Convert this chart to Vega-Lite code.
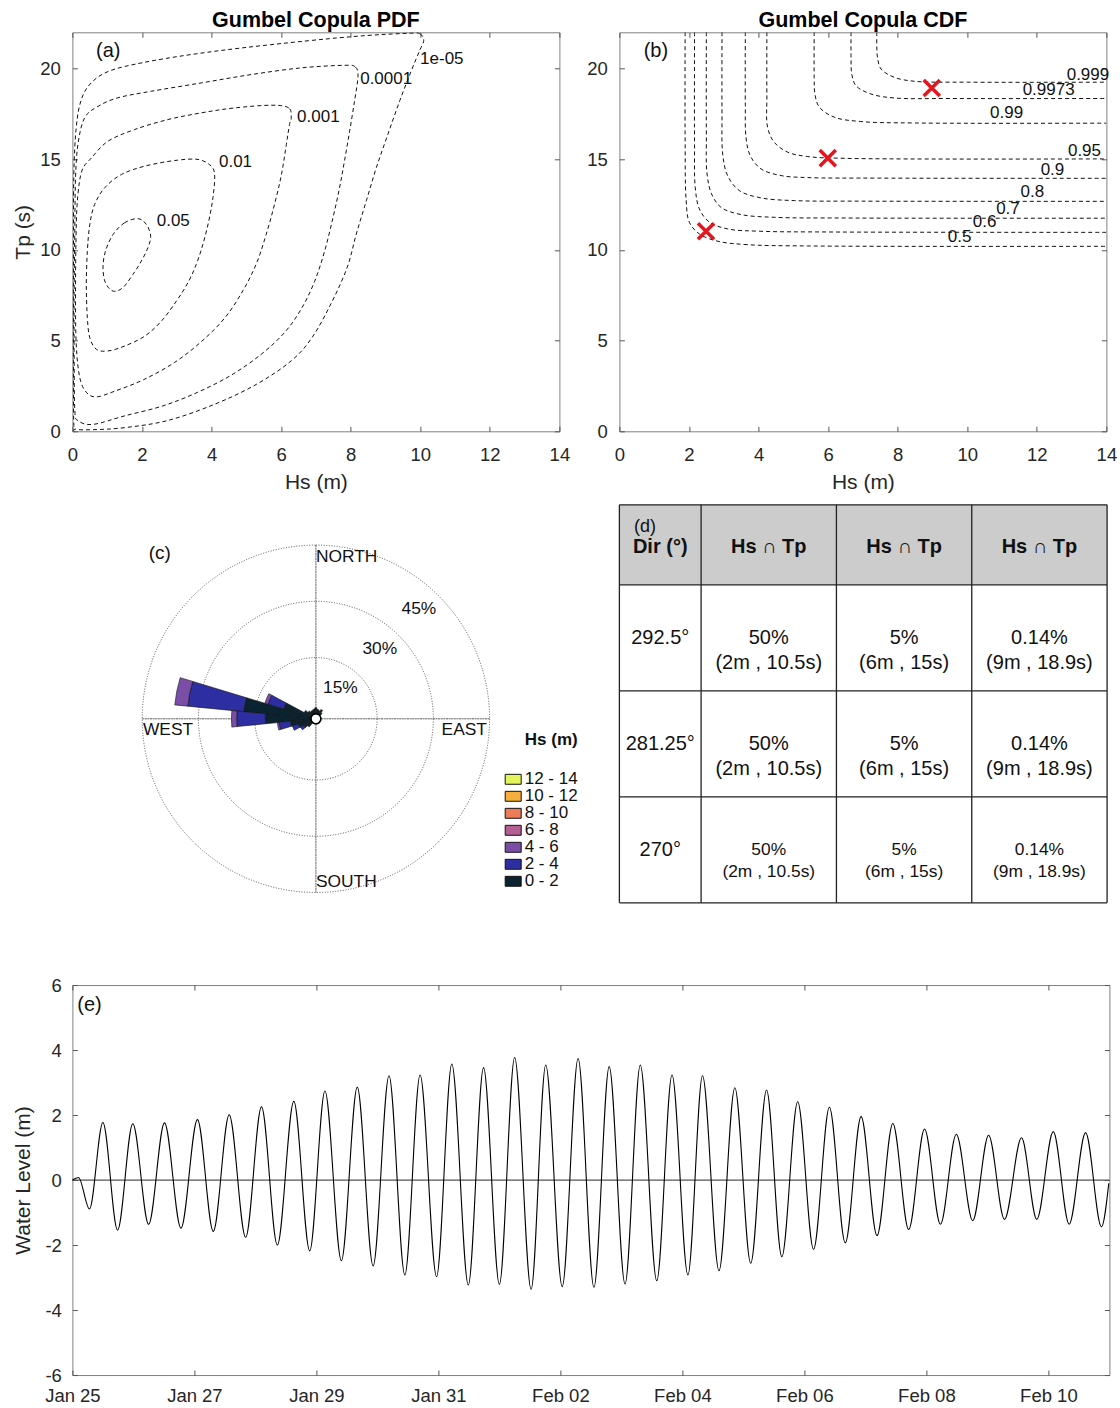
{
 "$schema": "https://vega.github.io/schema/vega-lite/v6.json",
 "padding": {"left": 12.4, "top": 9.3, "right": 4, "bottom": 4},
 "autosize": {"type": "pad"},
 "background": "white",
 "config": {
  "font": "Liberation Sans",
  "view": {"stroke": "#808080", "strokeWidth": 1},
  "axis": {"domain": false, "grid": false, "ticks": true, "tickColor": "#555555", "tickSize": -5, "tickWidth": 1, "labelFontSize": 18.5, "labelColor": "#262626", "labelFlush": false, "labelOverlap": false, "titleFontSize": 21, "titleFontWeight": "normal", "titleColor": "#262626", "labelFont": "Liberation Sans", "titleFont": "Liberation Sans"},
  "axisX": {"labelPadding": 19.2, "titleY": 51, "titleBaseline": "middle"},
  "axisY": {"labelPadding": 17.2, "titleX": -48.5, "titleBaseline": "middle"},
  "title": {"fontSize": 21.5, "fontWeight": "bold", "color": "#000000", "font": "Liberation Sans", "offset": 0.4, "baseline": "alphabetic"},
  "text": {"font": "Liberation Sans"}
 },
 "datasets": {
  "pdf": [
   {"level":"0.05","i":0,"hs":1.89,"tp":11.72},{"level":"0.05","i":1,"hs":1.50,"tp":11.50},{"level":"0.05","i":2,"hs":1.17,"tp":10.85},{"level":"0.05","i":3,"hs":0.95,"tp":9.93},{"level":"0.05","i":4,"hs":0.88,"tp":9.02},{"level":"0.05","i":5,"hs":0.95,"tp":8.19},{"level":"0.05","i":6,"hs":1.17,"tp":7.73},{"level":"0.05","i":7,"hs":1.45,"tp":7.92},{"level":"0.05","i":8,"hs":1.74,"tp":8.65},{"level":"0.05","i":9,"hs":1.98,"tp":9.38},{"level":"0.05","i":10,"hs":2.17,"tp":10.12},{"level":"0.05","i":11,"hs":2.25,"tp":10.76},{"level":"0.05","i":12,"hs":2.13,"tp":11.40},
   {"level":"0.01","i":0,"hs":4.09,"tp":14.07},{"level":"0.01","i":1,"hs":3.99,"tp":14.62},{"level":"0.01","i":2,"hs":3.61,"tp":14.99},{"level":"0.01","i":3,"hs":2.94,"tp":14.93},{"level":"0.01","i":4,"hs":2.08,"tp":14.62},{"level":"0.01","i":5,"hs":1.41,"tp":14.16},{"level":"0.01","i":6,"hs":0.93,"tp":13.43},{"level":"0.01","i":7,"hs":0.64,"tp":12.51},{"level":"0.01","i":8,"hs":0.50,"tp":11.40},{"level":"0.01","i":9,"hs":0.43,"tp":9.93},{"level":"0.01","i":10,"hs":0.40,"tp":8.10},{"level":"0.01","i":11,"hs":0.43,"tp":6.26},{"level":"0.01","i":12,"hs":0.50,"tp":5.16},{"level":"0.01","i":13,"hs":0.69,"tp":4.52},{"level":"0.01","i":14,"hs":1.02,"tp":4.43},{"level":"0.01","i":15,"hs":1.50,"tp":4.70},{"level":"0.01","i":16,"hs":2.08,"tp":5.25},{"level":"0.01","i":17,"hs":2.56,"tp":6.08},{"level":"0.01","i":18,"hs":2.99,"tp":7.18},{"level":"0.01","i":19,"hs":3.32,"tp":8.19},{"level":"0.01","i":20,"hs":3.56,"tp":9.20},{"level":"0.01","i":21,"hs":3.75,"tp":10.30},{"level":"0.01","i":22,"hs":3.92,"tp":11.59},{"level":"0.01","i":23,"hs":4.04,"tp":12.88},
   {"level":"0.001","i":0,"hs":6.29,"tp":17.28},{"level":"0.001","i":1,"hs":6.22,"tp":17.83},{"level":"0.001","i":2,"hs":5.72,"tp":17.98},{"level":"0.001","i":3,"hs":4.66,"tp":17.83},{"level":"0.001","i":4,"hs":3.71,"tp":17.56},{"level":"0.001","i":5,"hs":2.75,"tp":17.19},{"level":"0.001","i":6,"hs":1.79,"tp":16.64},{"level":"0.001","i":7,"hs":1.02,"tp":15.99},{"level":"0.001","i":8,"hs":0.55,"tp":15.08},{"level":"0.001","i":9,"hs":0.28,"tp":14.4},{"level":"0.001","i":10,"hs":0.16,"tp":13.07},{"level":"0.001","i":11,"hs":0.11,"tp":11.24},{"level":"0.001","i":12,"hs":0.09,"tp":7.56},{"level":"0.001","i":13,"hs":0.11,"tp":4.81},{"level":"0.001","i":14,"hs":0.21,"tp":2.98},{"level":"0.001","i":15,"hs":0.40,"tp":2.15},{"level":"0.001","i":16,"hs":0.69,"tp":1.9},{"level":"0.001","i":17,"hs":1.2,"tp":2.2},{"level":"0.001","i":18,"hs":2.05,"tp":2.85},{"level":"0.001","i":19,"hs":2.94,"tp":3.8},{"level":"0.001","i":20,"hs":3.71,"tp":4.95},{"level":"0.001","i":21,"hs":4.38,"tp":6.25},{"level":"0.001","i":22,"hs":4.90,"tp":7.75},{"level":"0.001","i":23,"hs":5.29,"tp":9.25},{"level":"0.001","i":24,"hs":5.57,"tp":10.85},{"level":"0.001","i":25,"hs":5.81,"tp":12.51},{"level":"0.001","i":26,"hs":6.01,"tp":14.16},{"level":"0.001","i":27,"hs":6.15,"tp":15.81},{"level":"0.001","i":28,"hs":6.24,"tp":16.91},
   {"level":"0.0001","i":0,"hs":8.21,"tp":19.58},{"level":"0.0001","i":1,"hs":8.13,"tp":20.09},{"level":"0.0001","i":2,"hs":7.82,"tp":20.18},{"level":"0.0001","i":3,"hs":6.58,"tp":20.04},{"level":"0.0001","i":4,"hs":5.14,"tp":19.67},{"level":"0.0001","i":5,"hs":3.71,"tp":19.21},{"level":"0.0001","i":6,"hs":2.27,"tp":18.75},{"level":"0.0001","i":7,"hs":1.31,"tp":18.39},{"level":"0.0001","i":8,"hs":0.74,"tp":17.92},{"level":"0.0001","i":9,"hs":0.35,"tp":17.28},{"level":"0.0001","i":10,"hs":0.16,"tp":15.83},{"level":"0.0001","i":11,"hs":0.09,"tp":13.99},{"level":"0.0001","i":12,"hs":0.07,"tp":11.24},{"level":"0.0001","i":13,"hs":0.05,"tp":7.56},{"level":"0.0001","i":14,"hs":0.05,"tp":3.90},{"level":"0.0001","i":15,"hs":0.07,"tp":1.14},{"level":"0.0001","i":16,"hs":0.16,"tp":0.59},{"level":"0.0001","i":17,"hs":0.59,"tp":0.38},{"level":"0.0001","i":18,"hs":1.5,"tp":0.85},{"level":"0.0001","i":19,"hs":2.6,"tp":1.4},{"level":"0.0001","i":20,"hs":3.6,"tp":2.15},{"level":"0.0001","i":21,"hs":4.57,"tp":3.1},{"level":"0.0001","i":22,"hs":5.43,"tp":4.25},{"level":"0.0001","i":23,"hs":6.10,"tp":5.45},{"level":"0.0001","i":24,"hs":6.58,"tp":6.75},{"level":"0.0001","i":25,"hs":6.96,"tp":8.25},{"level":"0.0001","i":26,"hs":7.25,"tp":9.93},{"level":"0.0001","i":27,"hs":7.49,"tp":11.77},{"level":"0.0001","i":28,"hs":7.68,"tp":13.43},{"level":"0.0001","i":29,"hs":7.82,"tp":14.89},{"level":"0.0001","i":30,"hs":7.97,"tp":16.55},{"level":"0.0001","i":31,"hs":8.11,"tp":18.20},
   {"level":"1e-05","i":0,"hs":10.10,"tp":21.55},{"level":"1e-05","i":1,"hs":10.0,"tp":21.9},{"level":"1e-05","i":2,"hs":9.69,"tp":21.95},{"level":"1e-05","i":3,"hs":7.97,"tp":21.75},{"level":"1e-05","i":4,"hs":5.38,"tp":21.25},{"level":"1e-05","i":5,"hs":3.47,"tp":20.79},{"level":"1e-05","i":6,"hs":2.03,"tp":20.33},{"level":"1e-05","i":7,"hs":1.07,"tp":19.87},{"level":"1e-05","i":8,"hs":0.55,"tp":19.23},{"level":"1e-05","i":9,"hs":0.26,"tp":18.31},{"level":"1e-05","i":10,"hs":0.11,"tp":16.75},{"level":"1e-05","i":11,"hs":0.04,"tp":13.99},{"level":"1e-05","i":12,"hs":0.03,"tp":9.41},{"level":"1e-05","i":13,"hs":0.03,"tp":3.9},{"level":"1e-05","i":14,"hs":0.04,"tp":0.40},{"level":"1e-05","i":15,"hs":0.10,"tp":0.12},{"level":"1e-05","i":16,"hs":0.59,"tp":0.09},{"level":"1e-05","i":17,"hs":1.5,"tp":0.2},{"level":"1e-05","i":18,"hs":2.75,"tp":0.6},{"level":"1e-05","i":19,"hs":4.1,"tp":1.5},{"level":"1e-05","i":20,"hs":5.3,"tp":2.6},{"level":"1e-05","i":21,"hs":6.3,"tp":3.9},{"level":"1e-05","i":22,"hs":6.9,"tp":5.2},{"level":"1e-05","i":23,"hs":7.45,"tp":7.1},{"level":"1e-05","i":24,"hs":7.9,"tp":9.04},{"level":"1e-05","i":25,"hs":8.16,"tp":10.87},{"level":"1e-05","i":26,"hs":8.45,"tp":12.71},{"level":"1e-05","i":27,"hs":8.74,"tp":14.55},{"level":"1e-05","i":28,"hs":9.07,"tp":16.38},{"level":"1e-05","i":29,"hs":9.41,"tp":18.22},{"level":"1e-05","i":30,"hs":9.74,"tp":19.87},{"level":"1e-05","i":31,"hs":9.98,"tp":20.98}
  ],
  "cdf": [
   {"level":"0.5","i":0,"hs":1.89,"tp":22},{"level":"0.5","i":1,"hs":1.89,"tp":16},{"level":"0.5","i":2,"hs":1.92,"tp":12.7},{"level":"0.5","i":3,"hs":2.01,"tp":11.53},{"level":"0.5","i":4,"hs":2.3,"tp":10.88},{"level":"0.5","i":5,"hs":2.83,"tp":10.48},{"level":"0.5","i":6,"hs":3.69,"tp":10.29},{"level":"0.5","i":7,"hs":5.41,"tp":10.22},{"level":"0.5","i":8,"hs":14,"tp":10.2},
   {"level":"0.6","i":0,"hs":2.16,"tp":22},{"level":"0.6","i":1,"hs":2.16,"tp":16},{"level":"0.6","i":2,"hs":2.18,"tp":13.46},{"level":"0.6","i":3,"hs":2.3,"tp":12.26},{"level":"0.6","i":4,"hs":2.59,"tp":11.53},{"level":"0.6","i":5,"hs":3.11,"tp":11.16},{"level":"0.6","i":6,"hs":4.07,"tp":11.03},{"level":"0.6","i":7,"hs":6,"tp":10.99},{"level":"0.6","i":8,"hs":14,"tp":10.97},
   {"level":"0.7","i":0,"hs":2.5,"tp":22},{"level":"0.7","i":1,"hs":2.5,"tp":16.5},{"level":"0.7","i":2,"hs":2.52,"tp":14.19},{"level":"0.7","i":3,"hs":2.65,"tp":13.09},{"level":"0.7","i":4,"hs":2.92,"tp":12.35},{"level":"0.7","i":5,"hs":3.5,"tp":11.95},{"level":"0.7","i":6,"hs":4.45,"tp":11.8},{"level":"0.7","i":7,"hs":6.5,"tp":11.76},{"level":"0.7","i":8,"hs":14,"tp":11.75},
   {"level":"0.8","i":0,"hs":2.95,"tp":22},{"level":"0.8","i":1,"hs":2.95,"tp":17.5},{"level":"0.8","i":2,"hs":2.97,"tp":15.29},{"level":"0.8","i":3,"hs":3.11,"tp":14.1},{"level":"0.8","i":4,"hs":3.45,"tp":13.27},{"level":"0.8","i":5,"hs":4.07,"tp":12.87},{"level":"0.8","i":6,"hs":5.03,"tp":12.72},{"level":"0.8","i":7,"hs":7,"tp":12.69},{"level":"0.8","i":8,"hs":14,"tp":12.68},
   {"level":"0.9","i":0,"hs":3.62,"tp":22},{"level":"0.9","i":1,"hs":3.62,"tp":18},{"level":"0.9","i":2,"hs":3.64,"tp":16.2},{"level":"0.9","i":3,"hs":3.76,"tp":15.2},{"level":"0.9","i":4,"hs":4.07,"tp":14.47},{"level":"0.9","i":5,"hs":4.65,"tp":14.1},{"level":"0.9","i":6,"hs":5.41,"tp":13.99},{"level":"0.9","i":7,"hs":7.5,"tp":13.96},{"level":"0.9","i":8,"hs":14,"tp":13.95},
   {"level":"0.95","i":0,"hs":4.24,"tp":22},{"level":"0.95","i":1,"hs":4.24,"tp":18.5},{"level":"0.95","i":2,"hs":4.26,"tp":16.76},{"level":"0.95","i":3,"hs":4.45,"tp":15.94},{"level":"0.95","i":4,"hs":4.84,"tp":15.39},{"level":"0.95","i":5,"hs":5.41,"tp":15.15},{"level":"0.95","i":6,"hs":6.5,"tp":15.05},{"level":"0.95","i":7,"hs":14,"tp":15.02},
   {"level":"0.99","i":0,"hs":5.6,"tp":22},{"level":"0.99","i":1,"hs":5.6,"tp":19.5},{"level":"0.99","i":2,"hs":5.62,"tp":18.6},{"level":"0.99","i":3,"hs":5.75,"tp":17.87},{"level":"0.99","i":4,"hs":6.18,"tp":17.32},{"level":"0.99","i":5,"hs":6.94,"tp":17.08},{"level":"0.99","i":6,"hs":8.5,"tp":17.0},{"level":"0.99","i":7,"hs":14,"tp":16.99},
   {"level":"0.9973","i":0,"hs":6.66,"tp":22},{"level":"0.9973","i":1,"hs":6.66,"tp":20.5},{"level":"0.9973","i":2,"hs":6.68,"tp":19.7},{"level":"0.9973","i":3,"hs":6.8,"tp":19.06},{"level":"0.9973","i":4,"hs":7.23,"tp":18.6},{"level":"0.9973","i":5,"hs":7.9,"tp":18.38},{"level":"0.9973","i":6,"hs":9.5,"tp":18.35},{"level":"0.9973","i":7,"hs":14,"tp":18.35},
   {"level":"0.999","i":0,"hs":7.40,"tp":22},{"level":"0.999","i":1,"hs":7.40,"tp":21.2},{"level":"0.999","i":2,"hs":7.42,"tp":20.6},{"level":"0.999","i":3,"hs":7.52,"tp":19.98},{"level":"0.999","i":4,"hs":7.9,"tp":19.52},{"level":"0.999","i":5,"hs":8.48,"tp":19.3},{"level":"0.999","i":6,"hs":10,"tp":19.25},{"level":"0.999","i":7,"hs":14,"tp":19.25}
  ],
  "wl": [
   {"t":"2018-01-25T00:00","v":0},{"t":"2018-01-25T02:24","v":0.08},{"t":"2018-01-25T06:43","v":-0.89},{"t":"2018-01-25T12:00","v":1.77},{"t":"2018-01-25T17:46","v":-1.54},{"t":"2018-01-25T23:46","v":1.73},
   {"t":"2018-01-26T06:00","v":-1.36},{"t":"2018-01-26T12:14","v":1.76},{"t":"2018-01-26T18:43","v":-1.48},{"t":"2018-01-27T01:12","v":1.86},{"t":"2018-01-27T07:26","v":-1.58},{"t":"2018-01-27T13:41","v":2.01},
   {"t":"2018-01-27T20:10","v":-1.76},{"t":"2018-01-28T02:24","v":2.25},{"t":"2018-01-28T08:38","v":-2.0},{"t":"2018-01-28T15:07","v":2.42},{"t":"2018-01-28T21:22","v":-2.18},{"t":"2018-01-29T03:22","v":2.74},
   {"t":"2018-01-29T09:50","v":-2.48},{"t":"2018-01-29T16:05","v":2.86},{"t":"2018-01-29T22:19","v":-2.64},{"t":"2018-01-30T04:34","v":3.21},{"t":"2018-01-30T10:48","v":-2.92},{"t":"2018-01-30T16:48","v":3.23},
   {"t":"2018-01-30T23:17","v":-2.97},{"t":"2018-01-31T05:17","v":3.57},{"t":"2018-01-31T11:46","v":-3.23},{"t":"2018-01-31T17:46","v":3.46},{"t":"2018-02-01T00:00","v":-3.21},{"t":"2018-02-01T06:00","v":3.77},
   {"t":"2018-02-01T12:29","v":-3.36},{"t":"2018-02-01T18:14","v":3.54},{"t":"2018-02-02T00:43","v":-3.28},{"t":"2018-02-02T06:58","v":3.74},{"t":"2018-02-02T13:12","v":-3.30},{"t":"2018-02-02T19:12","v":3.49},
   {"t":"2018-02-03T01:26","v":-3.2},{"t":"2018-02-03T07:26","v":3.54},{"t":"2018-02-03T13:55","v":-3.10},{"t":"2018-02-03T19:55","v":3.23},{"t":"2018-02-04T02:10","v":-2.92},{"t":"2018-02-04T07:55","v":3.21},
   {"t":"2018-02-04T14:24","v":-2.79},{"t":"2018-02-04T20:38","v":2.84},{"t":"2018-02-05T02:53","v":-2.56},{"t":"2018-02-05T09:07","v":2.77},{"t":"2018-02-05T15:07","v":-2.36},{"t":"2018-02-05T21:22","v":2.41},
   {"t":"2018-02-06T03:36","v":-2.13},{"t":"2018-02-06T09:50","v":2.24},{"t":"2018-02-06T16:05","v":-1.93},{"t":"2018-02-06T22:19","v":1.95},{"t":"2018-02-07T04:34","v":-1.71},{"t":"2018-02-07T10:48","v":1.74},
   {"t":"2018-02-07T17:02","v":-1.52},{"t":"2018-02-07T23:17","v":1.57},{"t":"2018-02-08T05:31","v":-1.36},{"t":"2018-02-08T11:46","v":1.41},{"t":"2018-02-08T18:14","v":-1.25},{"t":"2018-02-09T00:29","v":1.38},
   {"t":"2018-02-09T06:43","v":-1.21},{"t":"2018-02-09T13:26","v":1.30},{"t":"2018-02-09T19:26","v":-1.21},{"t":"2018-02-10T01:55","v":1.49},{"t":"2018-02-10T08:10","v":-1.36},{"t":"2018-02-10T14:38","v":1.46},
   {"t":"2018-02-10T20:53","v":-1.44},{"t":"2018-02-10T23:46","v":-0.1}
  ],
  "rose": [
   {"a0":275.625,"a1":286.875,"r0":0,"r1":18.0,"bin":"0 - 2"},{"a0":275.625,"a1":286.875,"r0":18.0,"r1":33.0,"bin":"2 - 4"},{"a0":275.625,"a1":286.875,"r0":33.0,"r1":36.5,"bin":"4 - 6"},
   {"a0":264.375,"a1":275.625,"r0":0,"r1":12.2,"bin":"0 - 2"},{"a0":264.375,"a1":275.625,"r0":12.2,"r1":19.8,"bin":"2 - 4"},{"a0":264.375,"a1":275.625,"r0":19.8,"r1":21.2,"bin":"4 - 6"},
   {"a0":286.875,"a1":298.125,"r0":0,"r1":7.6,"bin":"0 - 2"},{"a0":286.875,"a1":298.125,"r0":7.6,"r1":12.0,"bin":"2 - 4"},{"a0":286.875,"a1":298.125,"r0":12.0,"r1":12.9,"bin":"4 - 6"},
   {"a0":253.125,"a1":264.375,"r0":0,"r1":5.5,"bin":"0 - 2"},{"a0":253.125,"a1":264.375,"r0":5.5,"r1":8.5,"bin":"2 - 4"},{"a0":253.125,"a1":264.375,"r0":8.5,"r1":9.0,"bin":"4 - 6"},
   {"a0":241.875,"a1":253.125,"r0":0,"r1":3.5,"bin":"0 - 2"},{"a0":241.875,"a1":253.125,"r0":3.5,"r1":5.2,"bin":"2 - 4"},
   {"a0":230.625,"a1":241.875,"r0":0,"r1":2.3,"bin":"0 - 2"},{"a0":230.625,"a1":241.875,"r0":2.3,"r1":3.3,"bin":"2 - 4"},
   {"a0":219.375,"a1":230.625,"r0":0,"r1":1.5,"bin":"0 - 2"},
   {"a0":298.125,"a1":309.375,"r0":0,"r1":2.2,"bin":"0 - 2"},
   {"a0":309.375,"a1":320.625,"r0":0,"r1":1.4,"bin":"0 - 2"},
   {"a0":320.625,"a1":331.875,"r0":0,"r1":1.0,"bin":"0 - 2"},
   {"a0":331.875,"a1":343.125,"r0":0,"r1":1.1,"bin":"0 - 2"},
   {"a0":343.125,"a1":354.375,"r0":0,"r1":1.3,"bin":"0 - 2"},
   {"a0":354.375,"a1":365.625,"r0":0,"r1":1.6,"bin":"0 - 2"},
   {"a0":5.625,"a1":16.875,"r0":0,"r1":1.2,"bin":"0 - 2"},
   {"a0":16.875,"a1":28.125,"r0":0,"r1":1.0,"bin":"0 - 2"},
   {"a0":28.125,"a1":39.375,"r0":0,"r1":1.5,"bin":"0 - 2"},
   {"a0":39.375,"a1":50.625,"r0":0,"r1":0.8,"bin":"0 - 2"}
  ]
 },
 "vconcat": [
  {
   "vconcat": [
    {
     "hconcat": [
      {
       "width": 487, "height": 399,
       "title": {"text": "Gumbel Copula PDF"},
       "layer": [
        {
         "data": {"name": "pdf"},
         "mark": {"type": "line", "interpolate": "cardinal-closed", "strokeDash": [4, 3], "color": "#111111", "strokeWidth": 1, "clip": true},
         "encoding": {
          "x": {"field": "hs", "type": "quantitative", "scale": {"domain": [0, 14], "nice": false, "zero": false}, "axis": {"values": [0, 2, 4, 6, 8, 10, 12, 14], "title": "Hs (m)"}},
          "y": {"field": "tp", "type": "quantitative", "scale": {"domain": [0, 22], "nice": false, "zero": false}, "axis": {"values": [0, 5, 10, 15, 20], "title": "Tp (s)"}},
          "detail": {"field": "level", "type": "nominal"},
          "order": {"field": "i", "type": "quantitative"}
         }
        },
        {
         "data": {"values": [
          {"hs": 10.62, "tp": 20.53, "label": "1e-05"},
          {"hs": 9.02, "tp": 19.43, "label": "0.0001"},
          {"hs": 7.07, "tp": 17.35, "label": "0.001"},
          {"hs": 4.69, "tp": 14.83, "label": "0.01"},
          {"hs": 2.90, "tp": 11.58, "label": "0.05"}
         ]},
         "mark": {"type": "text", "fontSize": 17, "color": "#111111"},
         "encoding": {
          "x": {"field": "hs", "type": "quantitative", "scale": {"domain": [0, 14], "nice": false, "zero": false}, "axis": null},
          "y": {"field": "tp", "type": "quantitative", "scale": {"domain": [0, 22], "nice": false, "zero": false}, "axis": null},
          "text": {"field": "label"}
         }
        },
        {
         "data": {"values": [{"hs": 1.03, "tp": 20.96, "label": "(a)"}]},
         "mark": {"type": "text", "fontSize": 20, "color": "#111111"},
         "encoding": {
          "x": {"field": "hs", "type": "quantitative", "scale": {"domain": [0, 14], "nice": false, "zero": false}, "axis": null},
          "y": {"field": "tp", "type": "quantitative", "scale": {"domain": [0, 22], "nice": false, "zero": false}, "axis": null},
          "text": {"field": "label"}
         }
        },
        {
         "data": {"values": [{"hs": 0, "tp": 0}]},
         "mark": {"type": "point", "opacity": 0},
         "encoding": {
          "x": {"field": "hs", "type": "quantitative", "scale": {"domain": [0, 14], "nice": false, "zero": false}, "axis": {"orient": "top", "values": [0, 2, 4, 6, 8, 10, 12, 14], "labels": false, "title": null}},
          "y": {"field": "tp", "type": "quantitative", "scale": {"domain": [0, 22], "nice": false, "zero": false}, "axis": {"orient": "right", "values": [0, 5, 10, 15, 20], "labels": false, "title": null}}
         }
        }
       ],
       "resolve": {"axis": {"x": "independent", "y": "independent"}}
      },
      {
       "width": 487, "height": 399,
       "title": {"text": "Gumbel Copula CDF"},
       "layer": [
        {
         "data": {"name": "cdf"},
         "mark": {"type": "line", "interpolate": "catmull-rom", "strokeDash": [4, 3], "color": "#111111", "strokeWidth": 1, "clip": true},
         "encoding": {
          "x": {"field": "hs", "type": "quantitative", "scale": {"domain": [0, 14], "nice": false, "zero": false}, "axis": {"values": [0, 2, 4, 6, 8, 10, 12, 14], "title": "Hs (m)"}},
          "y": {"field": "tp", "type": "quantitative", "scale": {"domain": [0, 22], "nice": false, "zero": false}, "axis": {"values": [0, 5, 10, 15, 20], "title": null}},
          "detail": {"field": "level", "type": "nominal"},
          "order": {"field": "i", "type": "quantitative"}
         }
        },
        {
         "data": {"values": [
          {"hs": 13.47, "tp": 19.67, "label": "0.999"},
          {"hs": 12.34, "tp": 18.82, "label": "0.9973"},
          {"hs": 11.13, "tp": 17.54, "label": "0.99"},
          {"hs": 13.37, "tp": 15.44, "label": "0.95"},
          {"hs": 12.45, "tp": 14.43, "label": "0.9"},
          {"hs": 11.87, "tp": 13.22, "label": "0.8"},
          {"hs": 11.17, "tp": 12.26, "label": "0.7"},
          {"hs": 10.50, "tp": 11.53, "label": "0.6"},
          {"hs": 9.78, "tp": 10.70, "label": "0.5"}
         ]},
         "mark": {"type": "text", "fontSize": 17, "color": "#111111"},
         "encoding": {
          "x": {"field": "hs", "type": "quantitative", "scale": {"domain": [0, 14], "nice": false, "zero": false}, "axis": null},
          "y": {"field": "tp", "type": "quantitative", "scale": {"domain": [0, 22], "nice": false, "zero": false}, "axis": null},
          "text": {"field": "label"}
         }
        },
        {
         "data": {"values": [{"hs": 1.05, "tp": 20.96, "label": "(b)"}]},
         "mark": {"type": "text", "fontSize": 20, "color": "#111111"},
         "encoding": {
          "x": {"field": "hs", "type": "quantitative", "scale": {"domain": [0, 14], "nice": false, "zero": false}, "axis": null},
          "y": {"field": "tp", "type": "quantitative", "scale": {"domain": [0, 22], "nice": false, "zero": false}, "axis": null},
          "text": {"field": "label"}
         }
        },
        {
         "data": {"values": [{"hs": 2.49, "tp": 11.03}, {"hs": 5.99, "tp": 15.06}, {"hs": 8.98, "tp": 18.93}]},
         "mark": {"type": "point", "shape": "M-1,-1L1,1M-1,1L1,-1", "filled": false, "color": "#e3161e", "strokeWidth": 3.5, "size": 260, "opacity": 1},
         "encoding": {
          "x": {"field": "hs", "type": "quantitative", "scale": {"domain": [0, 14], "nice": false, "zero": false}, "axis": null},
          "y": {"field": "tp", "type": "quantitative", "scale": {"domain": [0, 22], "nice": false, "zero": false}, "axis": null}
         }
        },
        {
         "data": {"values": [{"hs": 0, "tp": 0}]},
         "mark": {"type": "point", "opacity": 0},
         "encoding": {
          "x": {"field": "hs", "type": "quantitative", "scale": {"domain": [0, 14], "nice": false, "zero": false}, "axis": {"orient": "top", "values": [0, 2, 4, 6, 8, 10, 12, 14], "labels": false, "title": null}},
          "y": {"field": "tp", "type": "quantitative", "scale": {"domain": [0, 22], "nice": false, "zero": false}, "axis": {"orient": "right", "values": [0, 5, 10, 15, 20], "labels": false, "title": null}}
         }
        }
       ],
       "resolve": {"axis": {"x": "independent", "y": "independent"}}
      }
     ],
     "spacing": 60,
     "bounds": "flush",
     "resolve": {"scale": {"color": "independent"}, "legend": {"color": "independent"}}
    },
    {
     "hconcat": [
      {
       "width": 487, "height": 428,
       "view": {"stroke": null},
       "layer": [
        {
         "data": {"values": [{"a0": 0, "a1": 360, "r": 15}, {"a0": 0, "a1": 360, "r": 30}, {"a0": 0, "a1": 360, "r": 45}]},
         "mark": {"type": "arc", "fill": null, "stroke": "#555555", "strokeDash": [1, 1.6], "strokeWidth": 1},
         "encoding": {
          "theta": {"field": "a0", "type": "quantitative", "stack": null, "scale": {"domain": [0, 360], "range": [0, 6.283185307179586]}},
          "theta2": {"field": "a1"},
          "radius": {"field": "r", "type": "quantitative", "scale": {"type": "linear", "domain": [0, 45], "range": [5, 173.7], "zero": false}}
         }
        },
        {
         "data": {"values": [{"a0": 0, "r": 45}, {"a0": 90, "r": 45}, {"a0": 180, "r": 45}, {"a0": 270, "r": 45}]},
         "mark": {"type": "arc", "fill": null, "stroke": "#555555", "strokeDash": [1, 1.6], "strokeWidth": 1},
         "encoding": {
          "theta": {"field": "a0", "type": "quantitative", "stack": null, "scale": {"domain": [0, 360], "range": [0, 6.283185307179586]}},
          "theta2": {"field": "a0"},
          "radius": {"field": "r", "type": "quantitative", "scale": {"type": "linear", "domain": [0, 45], "range": [5, 173.7], "zero": false}}
         }
        },
        {
         "data": {"name": "rose"},
         "mark": {"type": "arc", "stroke": "#111111", "strokeWidth": 0.6},
         "encoding": {
          "theta": {"field": "a0", "type": "quantitative", "stack": null, "scale": {"domain": [0, 360], "range": [0, 6.283185307179586]}},
          "theta2": {"field": "a1"},
          "radius": {"field": "r1", "type": "quantitative", "scale": {"type": "linear", "domain": [0, 45], "range": [5, 173.7], "zero": false}},
          "radius2": {"field": "r0"},
          "color": {
           "field": "bin", "type": "nominal",
           "scale": {"domain": ["12 - 14", "10 - 12", "8 - 10", "6 - 8", "4 - 6", "2 - 4", "0 - 2"], "range": ["#e4f55b", "#f7ae3d", "#ec7b57", "#b35f92", "#7a4da6", "#2e2ea3", "#0b2230"]},
           "legend": {
            "orient": "none", "legendX": 432.3, "legendY": 227, "title": "Hs (m)", "titleFontSize": 17, "titleFontWeight": "bold", "titleColor": "#111111", "titleAnchor": "end", "titlePadding": 22,
            "symbolType": "M-1,-0.62H1V0.62H-1Z", "symbolSize": 256, "symbolStrokeColor": "#111111", "symbolStrokeWidth": 1, "symbolOpacity": 1,
            "labelFontSize": 17, "labelColor": "#111111", "labelOffset": 3, "rowPadding": -1.5, "padding": 0
           }
          }
         }
        },
        {
         "data": {"values": [{"a0": 0, "a1": 360, "r": 0}]},
         "mark": {"type": "arc", "fill": "#ffffff", "stroke": "#000000", "strokeWidth": 1.6},
         "encoding": {
          "theta": {"field": "a0", "type": "quantitative", "stack": null, "scale": {"domain": [0, 360], "range": [0, 6.283185307179586]}},
          "theta2": {"field": "a1"},
          "radius": {"field": "r", "type": "quantitative", "scale": {"type": "linear", "domain": [0, 45], "range": [5, 173.7], "zero": false}}
         }
        },
        {
         "data": {"values": [{"a": 0, "r": 41.7, "label": "NORTH"}, {"a": 180, "r": 42.3, "label": "SOUTH"}, {"a": 266.3, "r": 44.9, "label": "WEST"}]},
         "mark": {"type": "text", "fontSize": 17.4, "align": "left", "baseline": "middle", "color": "#111111"},
         "encoding": {
          "theta": {"field": "a", "type": "quantitative", "stack": null, "scale": {"domain": [0, 360], "range": [0, 6.283185307179586]}},
          "radius": {"field": "r", "type": "quantitative", "scale": {"type": "linear", "domain": [0, 45], "range": [5, 173.7], "zero": false}},
          "text": {"field": "label"}
         }
        },
        {
         "data": {"values": [{"a": 93.8, "r": 44.4, "label": "EAST"}]},
         "mark": {"type": "text", "fontSize": 17.4, "align": "right", "baseline": "middle", "color": "#111111"},
         "encoding": {
          "theta": {"field": "a", "type": "quantitative", "stack": null, "scale": {"domain": [0, 360], "range": [0, 6.283185307179586]}},
          "radius": {"field": "r", "type": "quantitative", "scale": {"type": "linear", "domain": [0, 45], "range": [5, 173.7], "zero": false}},
          "text": {"field": "label"}
         }
        },
        {
         "data": {"values": [{"a": 43.07, "r": 38.9, "label": "45%"}, {"a": 42.5, "r": 23.9, "label": "30%"}, {"a": 38.96, "r": 9.07, "label": "15%"}]},
         "mark": {"type": "text", "fontSize": 17.4, "align": "center", "baseline": "middle", "color": "#111111"},
         "encoding": {
          "theta": {"field": "a", "type": "quantitative", "stack": null, "scale": {"domain": [0, 360], "range": [0, 6.283185307179586]}},
          "radius": {"field": "r", "type": "quantitative", "scale": {"type": "linear", "domain": [0, 45], "range": [5, 173.7], "zero": false}},
          "text": {"field": "label"}
         }
        },
        {
         "data": {"values": [{"a": 316.8, "r": 59.5, "label": "(c)"}]},
         "mark": {"type": "text", "fontSize": 19, "align": "center", "baseline": "middle", "color": "#111111"},
         "encoding": {
          "theta": {"field": "a", "type": "quantitative", "stack": null, "scale": {"domain": [0, 360], "range": [0, 6.283185307179586]}},
          "radius": {"field": "r", "type": "quantitative", "scale": {"type": "linear", "domain": [0, 45], "range": [5, 173.7], "zero": false}},
          "text": {"field": "label"}
         }
        }
       ]
      },
      {
       "width": 487.7, "height": 398,
       "view": {"stroke": null},
       "layer": [
        {
         "data": {"values": [{"c0": 0, "c1": 4, "r0": 0, "r1": 1}]},
         "mark": {"type": "rect", "color": "#cccccc"},
         "encoding": {
          "x": {"field": "c0", "type": "quantitative", "scale": {"domain": [0, 1, 4], "range": [0, 81.7, 487.7]}, "axis": null},
          "x2": {"field": "c1"},
          "y": {"field": "r0", "type": "quantitative", "scale": {"domain": [0, 1, 4], "range": [0, 80, 398]}, "axis": null},
          "y2": {"field": "r1"}
         }
        },
        {
         "data": {"values": [{"c": 0}, {"c": 1}, {"c": 2}, {"c": 3}, {"c": 4}]},
         "mark": {"type": "rule", "color": "#222222", "strokeWidth": 1.3},
         "encoding": {
          "x": {"field": "c", "type": "quantitative", "scale": {"domain": [0, 1, 4], "range": [0, 81.7, 487.7]}, "axis": null},
          "y": {"datum": 0, "type": "quantitative", "scale": {"domain": [0, 1, 4], "range": [0, 80, 398]}, "axis": null},
          "y2": {"datum": 4}
         }
        },
        {
         "data": {"values": [{"r": 0}, {"r": 1}, {"r": 2}, {"r": 3}, {"r": 4}]},
         "mark": {"type": "rule", "color": "#222222", "strokeWidth": 1.3},
         "encoding": {
          "y": {"field": "r", "type": "quantitative", "scale": {"domain": [0, 1, 4], "range": [0, 80, 398]}, "axis": null},
          "x": {"datum": 0, "type": "quantitative", "scale": {"domain": [0, 1, 4], "range": [0, 81.7, 487.7]}, "axis": null},
          "x2": {"datum": 4}
         }
        },
        {
         "data": {"values": [
          {"cx": 0.5, "cy": 0.53, "text": "Dir (°)"},
          {"cx": 1.5, "cy": 0.53, "text": "Hs ∩ Tp"},
          {"cx": 2.5, "cy": 0.53, "text": "Hs ∩ Tp"},
          {"cx": 3.5, "cy": 0.53, "text": "Hs ∩ Tp"}
         ]},
         "mark": {"type": "text", "fontSize": 20, "fontWeight": "bold", "align": "center", "baseline": "middle", "color": "#111111"},
         "encoding": {
          "x": {"field": "cx", "type": "quantitative", "scale": {"domain": [0, 1, 4], "range": [0, 81.7, 487.7]}, "axis": null},
          "y": {"field": "cy", "type": "quantitative", "scale": {"domain": [0, 1, 4], "range": [0, 80, 398]}, "axis": null},
          "text": {"field": "text"}
         }
        },
        {
         "data": {"values": [{"cx": 0.18, "cy": 0.28, "text": "(d)"}]},
         "mark": {"type": "text", "fontSize": 18, "align": "left", "baseline": "middle", "color": "#111111"},
         "encoding": {
          "x": {"field": "cx", "type": "quantitative", "scale": {"domain": [0, 1, 4], "range": [0, 81.7, 487.7]}, "axis": null},
          "y": {"field": "cy", "type": "quantitative", "scale": {"domain": [0, 1, 4], "range": [0, 80, 398]}, "axis": null},
          "text": {"field": "text"}
         }
        },
        {
         "data": {"values": [
          {"cx": 0.5, "cy": 1.5, "text": "292.5°"},
          {"cx": 1.5, "cy": 1.5, "text": "50%\n(2m , 10.5s)"},
          {"cx": 2.5, "cy": 1.5, "text": "5%\n(6m , 15s)"},
          {"cx": 3.5, "cy": 1.5, "text": "0.14%\n(9m , 18.9s)"},
          {"cx": 0.5, "cy": 2.5, "text": "281.25°"},
          {"cx": 1.5, "cy": 2.5, "text": "50%\n(2m , 10.5s)"},
          {"cx": 2.5, "cy": 2.5, "text": "5%\n(6m , 15s)"},
          {"cx": 3.5, "cy": 2.5, "text": "0.14%\n(9m , 18.9s)"},
          {"cx": 0.5, "cy": 3.5, "text": "270°"}
         ]},
         "mark": {"type": "text", "fontSize": 20, "lineBreak": "\n", "lineHeight": 25.5, "align": "center", "baseline": "middle", "color": "#111111"},
         "encoding": {
          "x": {"field": "cx", "type": "quantitative", "scale": {"domain": [0, 1, 4], "range": [0, 81.7, 487.7]}, "axis": null},
          "y": {"field": "cy", "type": "quantitative", "scale": {"domain": [0, 1, 4], "range": [0, 80, 398]}, "axis": null},
          "text": {"field": "text"}
         }
        },
        {
         "data": {"values": [
          {"cx": 1.5, "cy": 3.5, "text": "50%\n(2m , 10.5s)"},
          {"cx": 2.5, "cy": 3.5, "text": "5%\n(6m , 15s)"},
          {"cx": 3.5, "cy": 3.5, "text": "0.14%\n(9m , 18.9s)"}
         ]},
         "mark": {"type": "text", "fontSize": 17.4, "lineBreak": "\n", "lineHeight": 22.5, "align": "center", "baseline": "middle", "color": "#111111"},
         "encoding": {
          "x": {"field": "cx", "type": "quantitative", "scale": {"domain": [0, 1, 4], "range": [0, 81.7, 487.7]}, "axis": null},
          "y": {"field": "cy", "type": "quantitative", "scale": {"domain": [0, 1, 4], "range": [0, 80, 398]}, "axis": null},
          "text": {"field": "text"}
         }
        }
       ]
      }
     ],
     "spacing": 60,
     "bounds": "flush",
     "resolve": {"scale": {"color": "independent"}, "legend": {"color": "independent"}}
    }
   ],
   "spacing": 10.5,
   "resolve": {"scale": {"color": "independent"}, "legend": {"color": "independent"}}
  },
  {
   "width": 1037, "height": 390,
   "layer": [
    {
     "data": {"values": [{"v": 0}]},
     "mark": {"type": "rule", "color": "#555555", "strokeWidth": 1.2},
     "encoding": {
      "y": {"field": "v", "type": "quantitative", "scale": {"domain": [-6, 6], "nice": false, "zero": false}, "axis": null}
     }
    },
    {
     "data": {"name": "wl"},
     "mark": {"type": "line", "interpolate": "monotone", "color": "#000000", "strokeWidth": 1.1},
     "encoding": {
      "x": {"field": "t", "type": "temporal", "scale": {"domain": [{"year": 2018, "month": 1, "date": 25}, {"year": 2018, "month": 2, "date": 11}]},
       "axis": {"values": [{"year": 2018, "month": 1, "date": 25}, {"year": 2018, "month": 1, "date": 27}, {"year": 2018, "month": 1, "date": 29}, {"year": 2018, "month": 1, "date": 31}, {"year": 2018, "month": 2, "date": 2}, {"year": 2018, "month": 2, "date": 4}, {"year": 2018, "month": 2, "date": 6}, {"year": 2018, "month": 2, "date": 8}, {"year": 2018, "month": 2, "date": 10}], "format": "%b %d", "title": null, "labelPadding": 16.5}},
      "y": {"field": "v", "type": "quantitative", "scale": {"domain": [-6, 6], "nice": false, "zero": false}, "axis": {"values": [-6, -4, -2, 0, 2, 4, 6], "title": "Water Level (m)", "labelExpr": "'' + datum.value", "labelPadding": 16}}
     }
    },
    {
     "data": {"values": [{"t": "2018-01-25T06:43", "v": 5.38, "label": "(e)"}]},
     "mark": {"type": "text", "fontSize": 20, "color": "#111111"},
     "encoding": {
      "x": {"field": "t", "type": "temporal", "scale": {"domain": [{"year": 2018, "month": 1, "date": 25}, {"year": 2018, "month": 2, "date": 11}]}, "axis": null},
      "y": {"field": "v", "type": "quantitative", "scale": {"domain": [-6, 6], "nice": false, "zero": false}, "axis": null},
      "text": {"field": "label"}
     }
    },
    {
     "data": {"values": [{"t": "2018-01-25T00:00", "v": 0}]},
     "mark": {"type": "point", "opacity": 0},
     "encoding": {
      "x": {"field": "t", "type": "temporal", "scale": {"domain": [{"year": 2018, "month": 1, "date": 25}, {"year": 2018, "month": 2, "date": 11}]},
       "axis": {"orient": "top", "values": [{"year": 2018, "month": 1, "date": 25}, {"year": 2018, "month": 1, "date": 27}, {"year": 2018, "month": 1, "date": 29}, {"year": 2018, "month": 1, "date": 31}, {"year": 2018, "month": 2, "date": 2}, {"year": 2018, "month": 2, "date": 4}, {"year": 2018, "month": 2, "date": 6}, {"year": 2018, "month": 2, "date": 8}, {"year": 2018, "month": 2, "date": 10}], "labels": false, "title": null}},
      "y": {"field": "v", "type": "quantitative", "scale": {"domain": [-6, 6], "nice": false, "zero": false}, "axis": {"orient": "right", "values": [-6, -4, -2, 0, 2, 4, 6], "labels": false, "title": null}}
     }
    }
   ],
   "resolve": {"axis": {"x": "independent", "y": "independent"}}
  }
 ],
 "spacing": 41.75,
 "resolve": {"scale": {"color": "independent"}, "legend": {"color": "independent"}}
}
